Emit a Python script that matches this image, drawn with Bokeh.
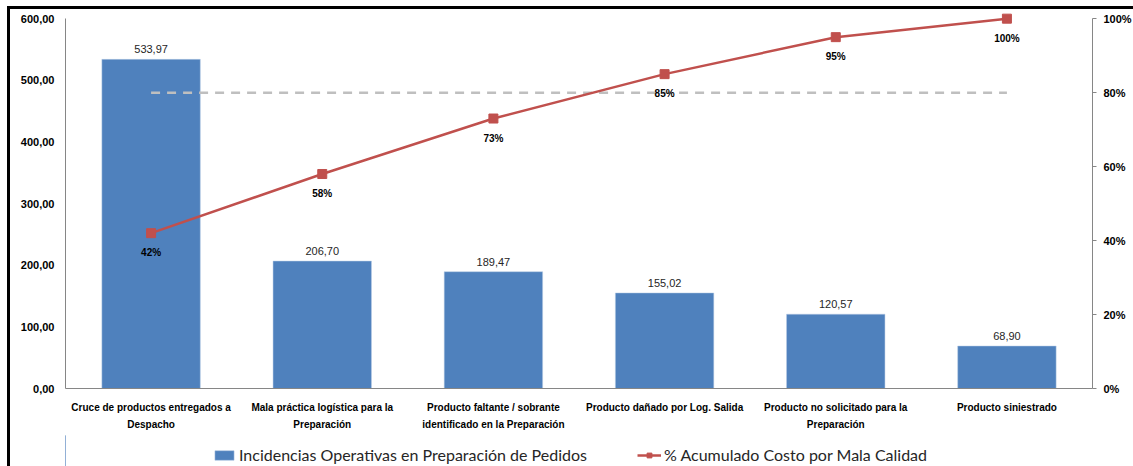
from bokeh.plotting import figure
from bokeh.models import (Range1d, LinearAxis, Legend, LegendItem, ColumnDataSource,
                          FixedTicker)
from bokeh.layouts import column
from bokeh.core.properties import value
from bokeh.embed import file_html
from bokeh.resources import INLINE

# ---------------- data ----------------
categories = [
    "Cruce de productos entregados a Despacho",
    "Mala práctica logística para la Preparación",
    "Producto faltante / sobrante identificado en la Preparación",
    "Producto dañado por Log. Salida",
    "Producto no solicitado para la Preparación",
    "Producto siniestrado",
]
label_line1 = [
    "Cruce de productos entregados a",
    "Mala práctica logística para la",
    "Producto faltante / sobrante",
    "Producto dañado por Log. Salida",
    "Producto no solicitado para la",
    "Producto siniestrado",
]
label_line2 = [
    "Despacho",
    "Preparación",
    "identificado en la Preparación",
    "",
    "Preparación",
    "",
]
incidencias = [533.97, 206.70, 189.47, 155.02, 120.57, 68.90]
acumulado = [0.42, 0.58, 0.73, 0.85, 0.95, 1.00]
umbral = 0.80
left_ticks = [0, 100, 200, 300, 400, 500, 600]
left_tick_labels = ["0,00", "100,00", "200,00", "300,00", "400,00", "500,00", "600,00"]
right_ticks = [0, 0.2, 0.4, 0.6, 0.8, 1.0]
right_tick_labels = ["0%", "20%", "40%", "60%", "80%", "100%"]
bar_name = "Incidencias Operativas en Preparación de Pedidos"
line_name = "% Acumulado Costo por Mala Calidad"

BLUE = "#4F81BD"
RED = "#C0504D"
AXIS = "#868686"
FONT = "Liberation Sans"

pos = list(range(len(categories)))

src = ColumnDataSource(dict(
    x=pos,
    cat=categories,
    val=incidencias,
    val_lbl=[f"{v:.2f}".replace(".", ",") for v in incidencias],
    pct=acumulado,
    pct_lbl=[f"{round(p * 100):d}%" for p in acumulado],
))

p = figure(
    x_range=Range1d(-0.5, len(categories) - 0.5),
    y_range=Range1d(0, 610),
    frame_width=1024, frame_height=373,
    min_border_left=55, min_border_right=44, min_border_top=3, min_border_bottom=50,
    output_backend="svg", toolbar_location=None,
    background_fill_color="white", border_fill_color="white",
    outline_line_color=None,
)
p.extra_y_ranges = {"pct": Range1d(0, 1.016667)}
p.grid.visible = False
p.margin = (6, 0, 0, 7)
p.styles = {"border-left": "3px solid black", "border-top": "3px solid black"}

# bars
bars = p.vbar(x="x", top="val", width=0.575, source=src, fill_color=BLUE,
              line_color="#B9CDE5", line_width=0.5)
p.text(x="x", y="val", text="val_lbl", source=src, text_align="center",
       text_baseline="bottom", y_offset=-6, text_font=value(FONT),
       text_font_size="11px", text_color="#262626")

# 80% reference line
p.line(x=[pos[0], pos[-1]], y=[umbral, umbral], y_range_name="pct",
       line_color="#BFBFBF", line_width=2.5, line_dash="9 7")

# cumulative line
ln = p.line(x="x", y="pct", source=src, y_range_name="pct", line_color=RED, line_width=2.5)
mk = p.scatter(x="x", y="pct", source=src, y_range_name="pct", marker="square",
               size=9, fill_color=RED, line_color=RED)
p.text(x="x", y="pct", text="pct_lbl", source=src, y_range_name="pct",
       text_align="center", text_baseline="top", y_offset=14,
       text_font=value(FONT), text_font_size="10px", text_font_style="bold",
       text_color="#000000")

# axes
ya = p.yaxis[0]
ya.ticker = FixedTicker(ticks=left_ticks)
ya.bounds = (0, 600)
ya.major_label_overrides = dict(zip(left_ticks, left_tick_labels))
ya.axis_line_color = AXIS
ya.major_tick_out = 0
ya.major_tick_in = 0
ya.minor_tick_out = 0
ya.minor_tick_in = 0
ya.major_label_standoff = 11
ya.major_label_text_font = FONT
ya.major_label_text_font_style = "bold"
ya.major_label_text_font_size = "11px"
ya.major_label_text_color = "#000000"

ra = LinearAxis(y_range_name="pct", ticker=FixedTicker(ticks=right_ticks), bounds=(0, 1))
ra.major_label_overrides = dict(zip(right_ticks, right_tick_labels))
ra.axis_line_color = AXIS
ra.major_tick_line_color = AXIS
ra.major_tick_out = 4
ra.major_tick_in = 0
ra.minor_tick_out = 0
ra.minor_tick_in = 0
ra.major_label_standoff = 7
ra.major_label_text_font = FONT
ra.major_label_text_font_style = "bold"
ra.major_label_text_font_size = "11px"
ra.major_label_text_color = "#000000"
p.add_layout(ra, "right")


def style_x(ax, standoff):
    ax.ticker = FixedTicker(ticks=pos)
    ax.major_tick_line_color = None
    ax.minor_tick_line_color = None
    ax.major_tick_out = 0
    ax.major_tick_in = 0
    ax.minor_tick_out = 0
    ax.minor_tick_in = 0
    ax.major_label_standoff = standoff
    ax.major_label_text_font = FONT
    ax.major_label_text_font_style = "bold"
    ax.major_label_text_font_size = "10px"
    ax.major_label_text_color = "#000000"


xa = p.xaxis[0]
style_x(xa, 13)
xa.major_label_overrides = dict(zip(pos, label_line1))
xa.axis_line_color = AXIS

xa2 = LinearAxis()
style_x(xa2, 3)
xa2.major_label_overrides = dict(zip(pos, label_line2))
xa2.axis_line_color = None
p.add_layout(xa2, "below")

# ---------------- legend strip below the chart ----------------
# same frame geometry as the chart so the column alignment does not shift anything
lf = figure(
    frame_width=1024, frame_height=31,
    x_range=Range1d(100, 101), y_range=Range1d(100, 101),
    min_border_left=55, min_border_right=44, min_border_top=0, min_border_bottom=0,
    output_backend="svg", toolbar_location=None, outline_line_color=None,
    background_fill_color="white", border_fill_color="white",
)
lf.axis.visible = False
lf.grid.visible = False
lf.margin = (0, 0, 0, 7)
lf.styles = {"border-left": "3px solid black"}
# legend proxies: the same series, drawn far outside this strip's visible range
lg_bar = lf.vbar(x="x", top="val", width=0.575, source=src, fill_color=BLUE,
                 line_color="#B9CDE5", line_width=0.5)
lg_line = lf.line(x="x", y="pct", source=src, line_color=RED, line_width=2.5)
lg_mark = lf.scatter(x="x", y="pct", source=src, marker="square", size=9,
                     fill_color=RED, line_color=RED)

legend = Legend(
    items=[LegendItem(label=bar_name, renderers=[lg_bar]),
           LegendItem(label=line_name, renderers=[lg_line, lg_mark])],
    orientation="horizontal", location=(147, 2),
    label_text_font="Lato", label_text_font_size="16px", label_text_color="#262626",
    glyph_width=24, glyph_height=12, label_standoff=3, spacing=50,
    padding=0, margin=0, border_line_alpha=0, background_fill_alpha=0,
    label_height=18,
)
lf.add_layout(legend, "center")

layout = column(p, lf, spacing=0)
open("out.html", "w").write(file_html(layout, INLINE))
